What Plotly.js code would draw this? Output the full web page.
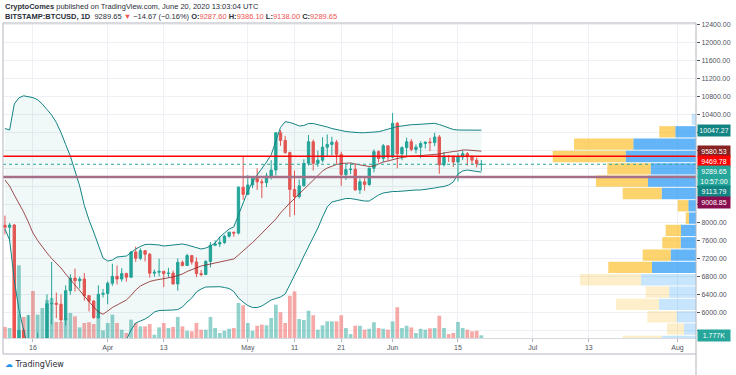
<!DOCTYPE html>
<html><head><meta charset="utf-8">
<script src="https://cdn.plot.ly/plotly-3.0.1.min.js"></script>
<style>html,body{margin:0;padding:0;background:#fff}#chart{width:736px;height:375px}</style>
</head><body><div id="chart"></div>
<script>
// ---------- DATA ----------
const dates = [
'2020-03-10','2020-03-11','2020-03-12','2020-03-13','2020-03-14','2020-03-15','2020-03-16','2020-03-17','2020-03-18','2020-03-19','2020-03-20','2020-03-21','2020-03-22','2020-03-23','2020-03-24','2020-03-25','2020-03-26','2020-03-27','2020-03-28','2020-03-29','2020-03-30','2020-03-31',
'2020-04-01','2020-04-02','2020-04-03','2020-04-04','2020-04-05','2020-04-06','2020-04-07','2020-04-08','2020-04-09','2020-04-10','2020-04-11','2020-04-12','2020-04-13','2020-04-14','2020-04-15','2020-04-16','2020-04-17','2020-04-18','2020-04-19','2020-04-20','2020-04-21','2020-04-22','2020-04-23','2020-04-24','2020-04-25','2020-04-26','2020-04-27','2020-04-28','2020-04-29','2020-04-30',
'2020-05-01','2020-05-02','2020-05-03','2020-05-04','2020-05-05','2020-05-06','2020-05-07','2020-05-08','2020-05-09','2020-05-10','2020-05-11','2020-05-12','2020-05-13','2020-05-14','2020-05-15','2020-05-16','2020-05-17','2020-05-18','2020-05-19','2020-05-20','2020-05-21','2020-05-22','2020-05-23','2020-05-24','2020-05-25','2020-05-26','2020-05-27','2020-05-28','2020-05-29','2020-05-30','2020-05-31',
'2020-06-01','2020-06-02','2020-06-03','2020-06-04','2020-06-05','2020-06-06','2020-06-07','2020-06-08','2020-06-09','2020-06-10','2020-06-11','2020-06-12','2020-06-13','2020-06-14','2020-06-15','2020-06-16','2020-06-17','2020-06-18','2020-06-19','2020-06-20'];

const open = [7935,7890,7940,4860,5600,5170,5360,5030,5330,5410,6190,6200,6180,5830,6480,6760,6700,6740,6370,6250,5880,6400,
6420,6645,6800,6740,6860,6780,7340,7200,7370,7290,6870,6890,6910,6860,6870,6630,7110,7040,7260,7120,6860,6840,7130,7490,7520,7550,7690,7780,7760,8780,
8620,8830,8970,8900,8880,9030,9160,9990,9820,9550,8730,8570,8810,9310,9790,9310,9380,9670,9730,9780,9510,9060,9170,9180,8720,8900,8840,9200,9570,9420,9700,
9450,10200,9520,9660,9790,9620,9670,9750,9785,9770,9895,9280,9470,9460,9340,9450,9525,9460,9380,9287.60];
const high = [8150,7985,7965,5950,5650,5940,5380,5550,5440,6400,7120,6440,6400,6600,6850,6970,6790,6870,6380,6270,6600,6520,
6690,7080,7040,6980,6880,7360,7460,7420,7380,7320,6950,7190,6920,6990,6930,7200,7150,7300,7270,7220,6940,7160,7560,7600,7680,7720,7790,7790,8800,9460,
9050,9000,9200,8960,9100,9380,10000,10050,9920,9570,9150,8950,9400,9940,9840,9590,9890,9950,9900,9830,9570,9270,9310,9300,8970,9010,9220,9620,9600,9740,9700,
10430,10230,9690,9880,9850,9730,9800,9800,9880,9990,9940,9560,9490,9480,9540,9590,9560,9490,9440,9386.10];
const low = [7730,7590,4700,3850,5080,5110,4450,4940,5080,5270,5730,5870,5760,5700,6390,6460,6530,6260,6020,5860,5860,6330,
6180,6590,6620,6680,6680,6770,7120,7160,7130,6770,6790,6800,6560,6780,6620,6480,7020,7030,7060,6780,6800,6830,7000,7470,7450,7520,7660,7680,7730,8500,
8620,8760,8720,8540,8780,8950,9040,9700,9520,8120,8160,8530,8800,9260,9150,9230,9330,9460,9480,9300,8810,8940,9070,8700,8630,8700,8810,9110,9330,9340,9370,
9420,9200,9380,9450,9580,9530,9430,9640,9580,9690,9080,9240,9340,9230,8910,9380,9260,9280,9220,9138.00];
const close = [7890,7940,4860,5600,5170,5360,5030,5330,5410,6190,6200,6180,5830,6480,6760,6700,6740,6370,6250,5880,6400,6420,
6645,6800,6740,6860,6780,7340,7200,7370,7290,6870,6890,6910,6860,6870,6630,7110,7040,7260,7120,6860,6840,7130,7490,7520,7550,7690,7780,7760,8780,8620,
8830,8970,8900,8880,9030,9160,9990,9820,9550,8730,8570,8810,9310,9790,9310,9380,9670,9730,9780,9510,9060,9170,9180,8720,8900,8840,9200,9570,9420,9700,9450,
10200,9520,9660,9790,9620,9670,9750,9780,9770,9895,9280,9470,9460,9340,9450,9525,9460,9380,9304.32,9289.65];
// volume, thousands of BTC
const volumeK = [7.3,6.6,46,48,13.9,15,31,15.4,19.8,25,26.4,10.6,10.4,13.2,16.5,14.3,7,9.9,10.4,9.2,14.5,5,
9.9,15.4,9.9,5.5,3.3,12.1,9.9,7.7,7.7,9.2,2.2,7,9.9,6.6,7.3,13.9,7.7,4.8,4.4,9.9,5.5,5.5,13.9,6.6,3.3,4.8,6.1,6.6,23.1,21.6,
9.9,4.8,8.1,8.8,8.4,13.2,22,17,9.9,27.9,30.8,12.5,11.9,18,15,5.5,8.4,11,11,11,15,6.6,2.6,8.1,8.1,5.5,6.1,10.4,6.6,6.1,5.5,
11,20.3,6.6,8.1,7,3.3,6.1,5.5,6.4,6.6,14.7,6.6,2.6,3.3,10.6,6.6,5.5,4.4,4.8,1.777];
// Bollinger Bands (20, 2)
const bbUpper = [10084,10051,10629,10766,10811,10795,10771,10722,10629,10506,10384,10218,9995,9729,9473,9140,8807,8373,8051,7784,7496,7207,
7140,7162,7229,7240,7251,7329,7407,7462,7507,7511,7507,7496,7473,7484,7496,7511,7518,7496,7467,7440,7407,7429,7473,7540,7673,7762,7851,7896,8184,8429,
8695,8895,9051,9184,9340,9500,9790,10110,10235,10218,10184,10140,10151,10195,10195,10173,10151,10118,10084,10062,10029,10018,10006,9991,9991,9991,9995,10006,10013,10040,10073,
10106,10129,10140,10162,10169,10173,10178,10184,10195,10200,10173,10140,10095,10062,10051,10051,10051,10051,10051,10047.27];
const bbBasis = [8940,8807,8607,8429,8229,8007,7762,7596,7451,7318,7196,7096,6985,6851,6729,6596,6462,6340,6218,6118,6007,5956,
6029,6107,6162,6218,6274,6374,6496,6585,6640,6685,6711,6729,6747,6762,6785,6818,6851,6907,6951,6996,7029,7051,7073,7096,7118,7140,7162,7185,7273,7362,
7462,7551,7651,7751,7851,7951,8073,8207,8329,8429,8529,8629,8740,8851,8940,9040,9140,9207,9251,9284,9307,9318,9318,9295,9273,9251,9240,9251,9295,9340,9362,
9395,9418,9440,9462,9473,9473,9480,9489,9495,9506,9518,9540,9562,9573,9584,9607,9607,9595,9584,9580.53];
const bbLower = [7851,7607,6718,6051,5607,5207,4762,4540,4318,4163,4052,4007,3985,3985,4007,4074,4118,4296,4385,4451,4518,4718,
4918,5051,5096,5207,5385,5607,5762,5807,5851,5918,6007,6040,6040,6040,6051,6062,6118,6229,6318,6451,6518,6562,6569,6569,6569,6551,6529,6462,6318,6229,
6151,6107,6107,6140,6207,6273,6307,6340,6407,6607,6807,7029,7251,7451,7651,7873,8118,8340,8451,8473,8507,8529,8529,8507,8484,8473,8473,8540,8607,8651,8673,
8684,8684,8695,8707,8718,8718,8718,8729,8740,8762,8784,8795,8829,8896,9073,9140,9162,9151,9129,9113.79];
// Visible-range volume profile (row centres, up / down volume)
const vpPrice = [10285,10011,9737,9463,9189,8915,8641,8367,8093,7819,7545,7271,6997,6723,6449,6175,5901,5627,5353];
const vpUp    = [4.3,20.7,62.7,70.3,45.3,48,34.3,7.7,7,15,15.3,25.3,44,55,26.7,37,19.3,12,34.3];
const vpDown  = [0,16,59.3,73,43.4,52,39,10.6,3.3,15.3,18.4,28,43.7,61,23.6,43,29.4,17,39];
const vpValueArea = [0,1,1,1,1,1,1,1,1,1,1,1,1,0,0,0,0,0,0];
// horizontal levels drawn by the author
const levelValues = [9469.78, 9008.85];
const levelColors = ['#ff0000', 'rgb(165,112,135)'];
const levelLabelColors = ['#ff0000', '#880e4f'];
// axes
const tickDates  = ['2020-03-16','2020-04-01','2020-04-13','2020-05-01','2020-05-11','2020-05-21','2020-06-01','2020-06-15','2020-07-01','2020-07-13','2020-08-01'];
const tickLabels = ['16','Apr','13','May','11','21','Jun','15','Jul','13','Aug'];
const priceTicks = [5600,6000,6400,6800,7200,7600,8000,8400,8800,9200,9600,10000,10400,10800,11200,11600,12000,12400];
const countdown = '10:57:00';
const publisher = 'CryptoComes';
const publishedText = 'published on TradingView.com, June 20, 2020 13:03:04 UTC';
const symbol = 'BITSTAMP:BTCUSD, 1D';

// ---------- CHART ----------
const UP = '#26a69a', DOWN = '#ef5350';
const FONT = 'Liberation Sans, Arial, sans-serif';
const Y_RANGE = [5429, 12429];
const PLOT_T = 23, PLOT_H = 315;
const last = close.length - 1;

const volColors = close.map((c, i) => c >= open[i] ? 'rgba(38,166,154,0.5)' : 'rgba(239,83,80,0.5)');
const DAY = 86400000;

const traces = [
  {type:'bar', x:dates, y:volumeK, xaxis:'x', yaxis:'y', width:0.8*DAY,
   marker:{color:volColors, line:{width:0}}, hoverinfo:'skip'},
  {type:'scatter', mode:'lines', x:dates, y:bbUpper, xaxis:'x', yaxis:'y2',
   line:{color:'#138484', width:1}, hoverinfo:'skip'},
  {type:'scatter', mode:'lines', x:dates, y:bbLower, xaxis:'x', yaxis:'y2',
   line:{color:'#138484', width:1}, fill:'tonexty', fillcolor:'rgba(19,132,132,0.06)', hoverinfo:'skip'},
  {type:'scatter', mode:'lines', x:dates, y:bbBasis, xaxis:'x', yaxis:'y2',
   line:{color:'#872323', width:1}, opacity:0.8, hoverinfo:'skip'},
  {type:'candlestick', x:dates, open:open, high:high, low:low, close:close, xaxis:'x', yaxis:'y2',
   increasing:{line:{color:UP, width:1}, fillcolor:UP},
   decreasing:{line:{color:DOWN, width:1}, fillcolor:DOWN},
   whiskerwidth:0, hoverinfo:'skip'},
  {type:'bar', orientation:'h', x:vpUp, y:vpPrice, xaxis:'x2', yaxis:'y2', width:252,
   marker:{color:vpValueArea.map(v => v ? 'rgba(33,150,243,0.7)' : 'rgba(33,150,243,0.25)'), line:{width:0}}, hoverinfo:'skip'},
  {type:'bar', orientation:'h', x:vpDown, base:vpUp, y:vpPrice, xaxis:'x2', yaxis:'y2', width:252,
   marker:{color:vpValueArea.map(v => v ? 'rgba(251,192,45,0.7)' : 'rgba(251,192,45,0.25)'), line:{width:0}}, hoverinfo:'skip'}
];

// right-axis value labels, stacked to avoid overlap
const toPx = v => PLOT_T + (Y_RANGE[1] - v) * PLOT_H / (Y_RANGE[1] - Y_RANGE[0]);
const lastUp = close[last] >= open[last];
const tags = [
  {v: bbUpper[last], bg:'#138484'},
  {v: bbBasis[last], bg:'#872323'},
  {v: levelValues[0], bg:levelLabelColors[0]},
  {v: close[last], bg: lastUp ? UP : DOWN, countdown:true},
  {v: bbLower[last], bg:'#138484'},
  {v: levelValues[1], bg:levelLabelColors[1]}
].sort((a, b) => b.v - a.v);
const STEP = 10.2;
let prevPx = -1e9;
const annotations = [];
const tagPx = [];
function tagAnn(y, yref, text, bg, shift) {
  return {xref:'paper', x:1, xanchor:'left', xshift:1, yref:yref, y:y, yanchor:'middle', yshift:shift,
    text:text, showarrow:false, bgcolor:bg, borderpad:1.5, width:29, height:8, align:'center',
    font:{family:FONT, size:7, color:'#ffffff'}};
}
tags.forEach(t => {
  const nat = toPx(t.v);
  const pos = Math.max(nat, prevPx + STEP);
  annotations.push(tagAnn(t.v, 'y2', t.v.toFixed(2), t.bg, nat - pos));
  tagPx.push(pos);
  prevPx = pos;
  if (t.countdown) {
    const pos2 = pos + STEP;
    annotations.push(tagAnn(t.v, 'y2', countdown, t.bg, nat - pos2));
    tagPx.push(pos2);
    prevPx = pos2;
  }
});
const volTagPx = PLOT_T + PLOT_H - volumeK[last] * PLOT_H / 207.9;
tagPx.push(volTagPx);
annotations.push(tagAnn(volumeK[last], 'y', volumeK[last].toFixed(3) + 'K', UP, 0));

// tick labels hidden behind the value tags
const priceTickText = priceTicks.map(v => tagPx.some(p => Math.abs(p - toPx(v)) < 8) ? '' : v.toFixed(2));

// header
const chg = close[last] - close[last - 1];
const pct = chg / close[last - 1] * 100;
const fmtSigned = v => (v < 0 ? '\u2212' : '+') + Math.abs(v).toFixed(2);
const red = s => '<span style="color:#ef5350">' + s + '</span>';
annotations.push({xref:'paper', yref:'paper', x:0, y:1.0524, xanchor:'left', yanchor:'middle', showarrow:false,
  text:'<b>' + publisher + '</b> ' + publishedText, font:{family:FONT, size:7.5, color:'#2a2e39'}});
annotations.push({xref:'paper', yref:'paper', x:0, y:1.0219, xanchor:'left', yanchor:'middle', showarrow:false,
  text:'<b>' + symbol + '</b>  ' + close[last].toFixed(2) + ' ' + red(chg < 0 ? '\u25BC' : '\u25B2') + ' ' +
       fmtSigned(chg) + ' (' + fmtSigned(pct) + '%) ' +
       '<b>O:</b>' + red(open[last].toFixed(2)) + ' <b>H:</b>' + red(high[last].toFixed(2)) +
       ' <b>L:</b>' + red(low[last].toFixed(2)) + ' <b>C:</b>' + red(close[last].toFixed(2)),
  font:{family:FONT, size:7.5, color:'#2a2e39'}});
// footer
annotations.push({xref:'paper', yref:'paper', x:0, y:-0.0857, xanchor:'left', yanchor:'middle', showarrow:false,
  text:'<span style="color:#2196f3">\u2601</span> TradingView', font:{family:'DejaVu Sans, sans-serif', size:8, color:'#2a2e39'}});

const shapes = [];
levelValues.forEach((v, i) => shapes.push({type:'line', xref:'paper', x0:0, x1:1, yref:'y2', y0:v, y1:v, layer:'above',
  line:{color:levelColors[i], width: i === 0 ? 1.5 : 2.5}}));
shapes.push({type:'line', xref:'paper', x0:0, x1:1, yref:'y2', y0:close[last], y1:close[last], layer:'above',
  line:{color:UP, width:1, dash:'dot'}});
// frame
const FR = '#b2b5be';
const yp = px => (PLOT_T + PLOT_H - px) / PLOT_H;
shapes.push({type:'line', xref:'paper', yref:'paper', x0:0, x1:1, y0:1, y1:1, line:{color:FR, width:1}});
shapes.push({type:'line', xref:'paper', yref:'paper', x0:0, x1:0, y0:1, y1:yp(354), line:{color:FR, width:1}});
shapes.push({type:'line', xref:'paper', yref:'paper', x0:0, x1:1, y0:yp(354), y1:yp(354), line:{color:FR, width:1}});
shapes.push({type:'line', xref:'paper', yref:'paper', x0:1, x1:1, y0:1, y1:yp(375), line:{color:FR, width:1}});

const tickFont = {family:FONT, size:7, color:'#50535e'};
const layout = {
  width:736, height:375, margin:{l:3, r:40, t:PLOT_T, b:37, pad:0},
  paper_bgcolor:'#ffffff', plot_bgcolor:'#ffffff', showlegend:false,
  barmode:'overlay', boxgap:0.5, boxgroupgap:0, hovermode:false,
  xaxis:{type:'date', range:['2020-03-09 14:00','2020-08-04 23:00'], tickvals:tickDates, ticktext:tickLabels,
    showgrid:true, gridcolor:'#edf0f5', ticks:'outside', ticklen:3, tickcolor:'#b2b5be',
    showline:true, linecolor:'#d6d9e0', tickfont:tickFont, zeroline:false, rangeslider:{visible:false}, fixedrange:true},
  yaxis:{range:[0, 207.9], visible:false, fixedrange:true},
  yaxis2:{overlaying:'y', side:'right', anchor:'x', range:Y_RANGE, tickvals:priceTicks,
    ticktext:priceTickText, showgrid:true, gridcolor:'#edf0f5', ticks:'outside', ticklen:3,
    tickcolor:'#50535e', tickfont:tickFont, zeroline:false, showline:false, fixedrange:true},
  xaxis2:{overlaying:'x', anchor:'y2', range:[693, 0], visible:false, fixedrange:true},
  shapes:shapes, annotations:annotations
};
Plotly.newPlot('chart', traces, layout, {displayModeBar:false, staticPlot:true});
</script></body></html>
